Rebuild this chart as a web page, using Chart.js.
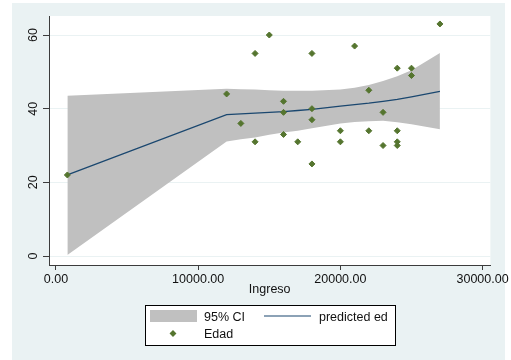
<!DOCTYPE html>
<html>
<head>
<meta charset="utf-8">
<script src="https://cdn.jsdelivr.net/npm/chart.js@4.4.0/dist/chart.umd.min.js"></script>
<style>
html, body { margin: 0; padding: 0; background: #ffffff; }
canvas { display: block; }
</style>
</head>
<body>
<canvas id="c" width="511" height="360"></canvas>
<script>
// Observations: Ingreso (x) and Edad (y)
const ingreso = [800, 12000, 13000, 14000, 14000, 15000, 16000, 16000, 16000, 17000, 18000, 18000, 18000, 18000,
                 20000, 20000, 21000, 22000, 22000, 23000, 23000, 24000, 24000, 24000, 24000, 25000, 25000, 27000];
const edad    = [22, 44, 36, 55, 31, 60, 42, 39, 33, 31, 55, 40, 37, 25,
                 34, 31, 57, 45, 34, 39, 30, 51, 34, 31, 30, 51, 49, 63];

// Fitted values and 95% confidence limits at each distinct Ingreso
const fitX      = [800, 12000, 13000, 14000, 15000, 16000, 17000, 18000, 20000, 21000, 22000, 23000, 24000, 25000, 27000];
const predicted = [22.0, 38.4, 38.6, 38.8, 39.0, 39.2, 39.5, 39.8, 40.7, 41.1, 41.5, 42.0, 42.5, 43.2, 44.7];
const ciUpper   = [43.5, 45.4, 45.3, 45.2, 45.0, 44.9, 44.9, 44.9, 45.2, 45.7, 46.4, 47.5, 48.8, 50.4, 55.1];
const ciLower   = [0.3, 31.1, 31.7, 32.2, 32.9, 33.5, 34.0, 34.7, 36.0, 36.4, 36.6, 36.7, 36.3, 35.8, 34.4];

// Axis ticks and labels
const xTicks = [0, 10000, 20000, 30000];
const yTicks = [0, 20, 40, 60];
const xTitle = 'Ingreso';
const legendLabels = ['95% CI', 'predicted ed', 'Edad'];

const regionColor = '#eaf2f3';
const bandColor   = '#c0c0c0';
const lineColor   = '#1a476f';
const markerColor = '#55752f';
const axisColor   = '#3c3c3c';
const textColor   = '#111111';
const FONT_FAMILY = '"Liberation Sans", Arial, sans-serif';

const pts = (xs, ys) => xs.map((x, i) => ({ x: x, y: ys[i] }));

// Graph region background and white plot region
const framePlugin = {
  id: 'frame',
  beforeDraw(chart) {
    const { ctx, chartArea: a } = chart;
    ctx.save();
    ctx.fillStyle = '#ffffff';
    ctx.fillRect(0, 0, chart.width, chart.height);
    ctx.fillStyle = regionColor;
    ctx.fillRect(12, 3, 493, 357);
    ctx.fillStyle = '#ffffff';
    ctx.fillRect(a.left, a.top, a.right - a.left, a.bottom - a.top);
    ctx.restore();
  }
};

// Boxed two-column legend below the axis title
const boxLegend = {
  id: 'boxLegend',
  afterDraw(chart) {
    const ctx = chart.ctx;
    const bx = 145, by = 305, bw = 250, bh = 40;
    ctx.save();
    ctx.fillStyle = '#ffffff';
    ctx.fillRect(bx, by, bw, bh);
    ctx.strokeStyle = '#000000';
    ctx.lineWidth = 1;
    ctx.strokeRect(bx + 0.5, by + 0.5, bw, bh);

    ctx.fillStyle = bandColor;
    ctx.fillRect(150, 310, 47, 12);

    ctx.strokeStyle = lineColor;
    ctx.lineWidth = 1.2;
    ctx.beginPath();
    ctx.moveTo(264, 316);
    ctx.lineTo(311, 316);
    ctx.stroke();

    ctx.fillStyle = markerColor;
    ctx.strokeStyle = markerColor;
    Chart.helpers.drawPoint(ctx, { pointStyle: 'rectRot', radius: 2.6, borderWidth: 1 }, 173, 333.5);

    ctx.font = '12.5px ' + FONT_FAMILY;
    ctx.fillStyle = textColor;
    ctx.textBaseline = 'alphabetic';
    ctx.textAlign = 'left';
    ctx.fillText(legendLabels[0], 204, 321);
    ctx.fillText(legendLabels[1], 319, 321);
    ctx.fillText(legendLabels[2], 204, 338);
    ctx.restore();
  }
};

new Chart(document.getElementById('c'), {
  type: 'line',
  data: {
    datasets: [
      {
        label: legendLabels[2],
        data: pts(ingreso, edad),
        showLine: false,
        pointStyle: 'rectRot',
        pointRadius: 3,
        pointBorderWidth: 1,
        pointBackgroundColor: markerColor,
        pointBorderColor: markerColor,
        order: 1
      },
      {
        label: legendLabels[1],
        data: pts(fitX, predicted),
        borderColor: lineColor,
        borderWidth: 1.3,
        pointRadius: 0,
        tension: 0,
        fill: false,
        order: 2
      },
      {
        label: legendLabels[0],
        data: pts(fitX, ciUpper),
        borderWidth: 0,
        borderColor: 'rgba(0,0,0,0)',
        backgroundColor: bandColor,
        pointRadius: 0,
        tension: 0,
        fill: '+1',
        order: 3
      },
      {
        label: 'lower',
        data: pts(fitX, ciLower),
        borderWidth: 0,
        borderColor: 'rgba(0,0,0,0)',
        pointRadius: 0,
        tension: 0,
        fill: false,
        order: 4
      }
    ]
  },
  options: {
    responsive: false,
    animation: false,
    events: [],
    layout: { padding: { left: 12, right: 20, top: 16, bottom: 63 }, autoPadding: false },
    plugins: {
      legend: { display: false },
      tooltip: { enabled: false }
    },
    scales: {
      x: {
        type: 'linear',
        min: -492,
        max: 30548,
        afterBuildTicks(scale) { scale.ticks = xTicks.map(v => ({ value: v })); },
        afterFit(scale) { scale.height = 32; },
        ticks: {
          callback: v => Number(v).toFixed(2),
          font: { family: FONT_FAMILY, size: 12.5 },
          color: textColor,
          padding: 2,
          maxRotation: 0,
          autoSkip: false
        },
        grid: {
          drawOnChartArea: false,
          drawTicks: true,
          tickLength: 5,
          tickColor: axisColor,
          tickWidth: 1
        },
        border: { display: true, color: axisColor, width: 1 },
        title: {
          display: true,
          text: xTitle,
          font: { family: FONT_FAMILY, size: 12.5 },
          color: textColor,
          padding: { top: 0, bottom: 0 }
        }
      },
      y: {
        type: 'linear',
        min: -2.44,
        max: 65.16,
        afterBuildTicks(scale) { scale.ticks = yTicks.map(v => ({ value: v })); },
        afterFit(scale) { scale.width = 37; },
        ticks: {
          font: { family: FONT_FAMILY, size: 12.5 },
          color: textColor,
          minRotation: 90,
          maxRotation: 90,
          crossAlign: 'center',
          padding: 3,
          autoSkip: false
        },
        grid: {
          drawOnChartArea: true,
          color: regionColor,
          lineWidth: 1,
          drawTicks: true,
          tickLength: 6,
          tickColor: axisColor,
          tickWidth: 1
        },
        border: { display: true, color: axisColor, width: 1 }
      }
    }
  },
  plugins: [framePlugin, boxLegend]
});
</script>
</body>
</html>
